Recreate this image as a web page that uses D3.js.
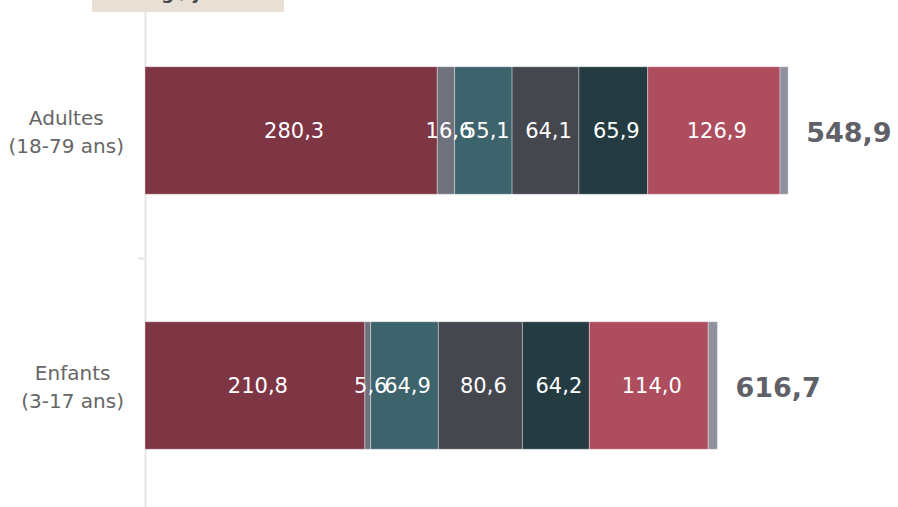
<!DOCTYPE html>
<html>
<head>
<meta charset="utf-8">
<script src="https://cdn.jsdelivr.net/npm/d3@7"></script>
<style>
  html, body { margin: 0; padding: 0; background: #ffffff; }
  svg { display: block; font-family: "DejaVu Sans", "Open Sans", sans-serif; }
</style>
</head>
<body>
<svg id="chart" width="898" height="507"></svg>
<script>
// Apports par groupe d'âge, décomposés par source
const categories = ["Adultes\n(18-79 ans)", "Enfants\n(3-17 ans)"];
const seriesNames = ["S1", "S2", "S3", "S4", "S5", "S6", "S7"];
const seriesColors = ["#7e3645", "#6f727d", "#3d636d", "#45474f", "#253b42", "#ad4d5e", "#8e919c"];
const seriesValues = [
  [280.3, 210.8],
  [16.6, 5.6],
  [55.1, 64.9],
  [64.1, 80.6],
  [65.9, 64.2],
  [126.9, 114.0],
  [7.8, 8.8]
];
// Étiquettes de total affichées en bout de barre
const totalLabels = ["548,9", "616,7"];
const showValueLabel = [true, true, true, true, true, true, false];

const svg = d3.select("#chart");
const W = 898, H = 507;

const x = d3.scaleLinear().domain([0, 700]).range([145, 145 + 730]);
const y = d3.scaleBand().domain(categories).range([3, 513]).paddingInner(0.5).paddingOuter(0.25);

const fmt = v => d3.format(".1f")(v).replace(".", ",");

// Axe vertical
svg.append("line")
  .attr("x1", 145.5).attr("x2", 145.5)
  .attr("y1", 0).attr("y2", H)
  .attr("stroke", "#e6e6e6").attr("stroke-width", 2);

// Graduation entre les catégories
const boundary = (y(categories[0]) + y.bandwidth() + y(categories[1])) / 2;
svg.append("line")
  .attr("x1", 138).attr("x2", 145)
  .attr("y1", Math.round(boundary) + 0.5).attr("y2", Math.round(boundary) + 0.5)
  .attr("stroke", "#e6e6e6").attr("stroke-width", 2);

// Segments empilés
categories.forEach((cat, ci) => {
  let acc = 0;
  const g = svg.append("g");
  seriesValues.forEach((vals, si) => {
    const v = vals[ci];
    const x0 = x(acc), x1 = x(acc + v);
    g.append("rect")
      .attr("x", x0).attr("y", y(cat))
      .attr("width", x1 - x0).attr("height", y.bandwidth())
      .attr("fill", seriesColors[si])
      .attr("stroke", "rgba(255,255,255,0.35)").attr("stroke-width", 1);
    acc += v;
  });
  acc = 0;
  seriesValues.forEach((vals, si) => {
    const v = vals[ci];
    if (showValueLabel[si]) {
      g.append("text")
        .attr("x", (x(acc) + x(acc + v)) / 2 + 3)
        .attr("y", y(cat) + y.bandwidth() / 2)
        .attr("dy", "0.35em")
        .attr("text-anchor", "middle")
        .attr("fill", "#ffffff")
        .attr("font-size", 21)
        .text(fmt(v));
    }
    acc += v;
  });
  // Total
  svg.append("text")
    .attr("x", x(acc) + 18)
    .attr("y", y(cat) + y.bandwidth() / 2 + 2)
    .attr("dy", "0.35em")
    .attr("fill", "#5f6068")
    .attr("font-size", 27)
    .attr("font-weight", 700)
    .text(totalLabels[ci]);

  // Libellé de catégorie : lignes centrées, bloc aligné à droite
  const lines = cat.split("\n");
  const t = svg.append("text")
    .attr("text-anchor", "middle")
    .attr("fill", "#666666")
    .attr("font-size", 20);
  const spans = lines.map((ln, li) => t.append("tspan")
      .attr("y", y(cat) + y.bandwidth() / 2 - 13 + li * 28)
      .attr("dy", "0.35em")
      .text(ln));
  const maxW = d3.max(spans, s => s.node().getComputedTextLength());
  spans.forEach(s => s.attr("x", 124 - maxW / 2));
});

// Encadré du titre
svg.append("rect")
  .attr("x", 92).attr("y", 0).attr("width", 192).attr("height", 12)
  .attr("fill", "#e8e0d4");
svg.append("text")
  .attr("x", 188).attr("y", -1)
  .attr("text-anchor", "middle")
  .attr("fill", "#45474f")
  .attr("font-size", 18).attr("font-weight", 700)
  .text("mg / jour");
</script>
</body>
</html>
